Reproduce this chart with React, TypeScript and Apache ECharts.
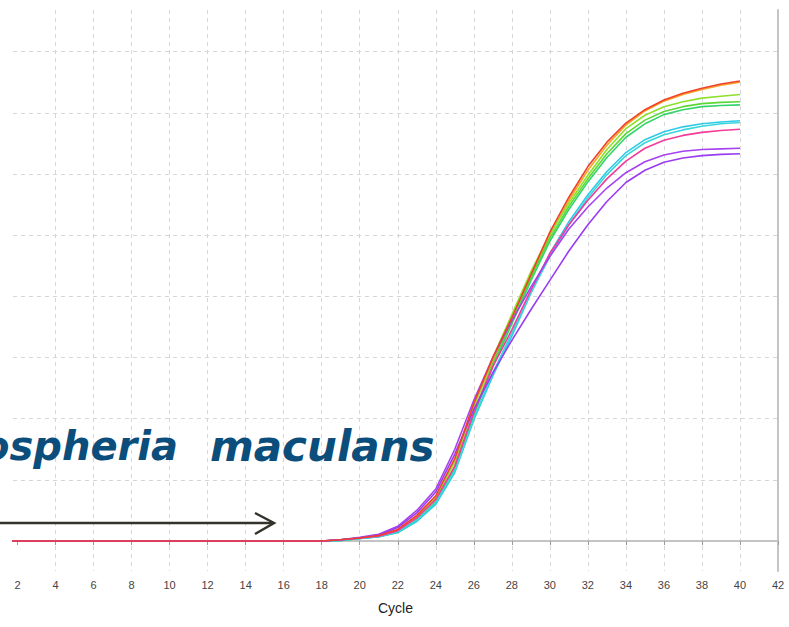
import React, { useEffect, useRef } from "react";
import * as echarts from "echarts";

// Cycles 1..40
const cycles = [1,2,3,4,5,6,7,8,9,10,11,12,13,14,15,16,17,18,19,20,21,22,23,24,25,26,27,28,29,30,31,32,33,34,35,36,37,38,39,40];
const xTickLabels = [2,4,6,8,10,12,14,16,18,20,22,24,26,28,30,32,34,36,38,40,42];

// Flat baseline, cycles 1..18
const preRise = [0,0,0,0,0,0,0,0,0,0,0,0,0,0,0,0,0,0];

// Cycles 19..40
const orangeRise = [0.02,0.05,0.09,0.18,0.40,0.72,1.30,2.20,2.95,3.60,4.30,5.00,5.57,6.06,6.47,6.80,7.03,7.19,7.30,7.38,7.45,7.50];
const limeRise   = [0.02,0.05,0.08,0.17,0.38,0.70,1.30,2.20,3.00,3.70,4.40,5.02,5.52,5.98,6.40,6.74,6.96,7.10,7.18,7.24,7.27,7.30];
const greenRise  = [0.01,0.04,0.08,0.15,0.35,0.65,1.22,2.10,2.90,3.60,4.30,4.95,5.47,5.92,6.33,6.66,6.88,7.02,7.10,7.15,7.17,7.18];
const green2Rise = [0.01,0.04,0.07,0.14,0.33,0.62,1.18,2.05,2.85,3.55,4.25,4.90,5.42,5.87,6.27,6.60,6.82,6.97,7.05,7.10,7.12,7.13];
const cyanRise   = [0.01,0.04,0.07,0.14,0.32,0.60,1.12,1.98,2.70,3.35,4.05,4.70,5.22,5.66,6.04,6.35,6.56,6.69,6.77,6.82,6.85,6.87];
const cyan2Rise  = [0.01,0.04,0.07,0.15,0.34,0.63,1.15,2.00,2.75,3.40,4.05,4.65,5.17,5.61,5.99,6.30,6.51,6.64,6.72,6.78,6.82,6.84];
const pinkRise   = [0.02,0.05,0.08,0.17,0.38,0.68,1.22,2.10,2.85,3.45,4.10,4.70,5.17,5.57,5.92,6.21,6.42,6.55,6.63,6.68,6.71,6.73];
const purpleRise = [0.02,0.06,0.11,0.24,0.50,0.85,1.50,2.30,3.00,3.60,4.15,4.65,5.10,5.46,5.77,6.02,6.20,6.31,6.37,6.40,6.41,6.42];
const violetRise = [0.02,0.05,0.10,0.22,0.46,0.80,1.42,2.15,2.75,3.28,3.78,4.26,4.74,5.17,5.55,5.86,6.06,6.19,6.26,6.30,6.32,6.33];
const redRise    = [0.02,0.05,0.09,0.19,0.42,0.74,1.35,2.25,3.00,3.65,4.35,5.05,5.62,6.12,6.52,6.83,7.05,7.21,7.32,7.40,7.47,7.52];

const seriesDefs = [
  { name: "S1", color: "#f5a623", values: [...preRise, ...orangeRise] },
  { name: "S2", color: "#8ee02c", values: [...preRise, ...limeRise] },
  { name: "S3", color: "#5ad838", values: [...preRise, ...greenRise] },
  { name: "S4", color: "#34d46a", values: [...preRise, ...green2Rise] },
  { name: "S5", color: "#2ecbe8", values: [...preRise, ...cyanRise] },
  { name: "S6", color: "#3ad6dc", values: [...preRise, ...cyan2Rise] },
  { name: "S7", color: "#f23c9a", values: [...preRise, ...pinkRise] },
  { name: "S8", color: "#a642f0", values: [...preRise, ...purpleRise] },
  { name: "S9", color: "#9a3cf2", values: [...preRise, ...violetRise] },
  { name: "S10", color: "#f0402c", values: [...preRise, ...redRise] },
];

const X_MIN = 1.763;
const X_MAX = 42;
const Y_MIN = -0.49;
const Y_MAX = 8.68;

export default function App() {
  const ref = useRef<HTMLDivElement>(null);
  useEffect(() => {
    if (!ref.current) return;
    const chart = echarts.init(ref.current, undefined, { renderer: "svg" });
    const gridDash = { color: "#d6d6d6", type: [4, 4] as any, width: 1 };
    chart.setOption({
      animation: false,
      backgroundColor: "#ffffff",
      grid: { left: 13, right: 11, top: 10, bottom: 56, containLabel: false },
      xAxis: [
        {
          type: "value",
          min: X_MIN,
          max: X_MAX,
          minInterval: 2,
          maxInterval: 2,
          name: "Cycle",
          nameLocation: "middle",
          nameGap: 30,
          nameTextStyle: { color: "#222", fontSize: 14, fontFamily: "Liberation Sans, Arial, sans-serif" },
          axisLine: { show: true, lineStyle: { color: "#9a9a9a", width: 2 } },
          axisTick: { show: true, length: 4, inside: false, lineStyle: { color: "#9a9a9a" }, customValues: xTickLabels },
          axisLabel: {
            show: true,
            color: "#444",
            fontSize: 11,
            margin: 8,
            fontFamily: "Liberation Sans, Arial, sans-serif",
            customValues: xTickLabels,
          },
          splitLine: { show: true, showMinLine: false, showMaxLine: false, lineStyle: gridDash },
        },
        {
          type: "value",
          position: "top",
          min: X_MIN,
          max: X_MAX,
          axisLine: { show: true, lineStyle: { color: "#c4c4c4", width: 2 } },
          axisTick: { show: false },
          axisLabel: { show: false },
          splitLine: { show: false },
        },
      ],
      yAxis: [
        {
          type: "value",
          min: Y_MIN,
          max: Y_MAX,
          minInterval: 1,
          maxInterval: 1,
          axisLine: { show: false },
          axisTick: { show: false },
          axisLabel: { show: false },
          splitLine: { show: true, showMinLine: false, showMaxLine: false, lineStyle: gridDash },
        },
        {
          type: "value",
          position: "right",
          min: Y_MIN,
          max: Y_MAX,
          axisLine: { show: true, lineStyle: { color: "#c4c4c4", width: 2 } },
          axisTick: { show: false },
          axisLabel: { show: false },
          splitLine: { show: false },
        },
      ],
      series: seriesDefs.map((s) => ({
        name: s.name,
        type: "line",
        xAxisIndex: 0,
        yAxisIndex: 0,
        showSymbol: false,
        symbol: "none",
        smooth: false,
        clip: true,
        lineStyle: { color: s.color, width: 1.6 },
        data: cycles.map((c, i) => [c, s.values[i]]),
      })),
      graphic: [
        {
          type: "text",
          silent: true,
          z: 100,
          style: {
            text: "ospheria",
            x: 178,
            y: 446,
            textAlign: "right",
            textVerticalAlign: "middle",
            font: "italic bold 40px 'DejaVu Sans', Verdana, sans-serif",
            fill: "#0b4e7b",
          },
        },
        {
          type: "text",
          silent: true,
          z: 100,
          style: {
            text: "maculans",
            x: 210,
            y: 446,
            textAlign: "left",
            textVerticalAlign: "middle",
            font: "italic bold 42px 'DejaVu Sans', Verdana, sans-serif",
            fill: "#0b4e7b",
          },
        },
        {
          type: "line",
          silent: true,
          z: 100,
          shape: { x1: 0, y1: 523, x2: 272, y2: 523 },
          style: { stroke: "#33332b", lineWidth: 2.5 },
        },
        {
          type: "polyline",
          silent: true,
          z: 100,
          shape: { points: [[255, 513], [274, 523], [255, 534]] },
          style: { stroke: "#33332b", lineWidth: 2.5, fill: "none" },
        },
      ],
    });
    return () => chart.dispose();
  }, []);
  return <div ref={ref} style={{ width: 789, height: 627, position: "absolute", left: 0, top: 0 }} />;
}
